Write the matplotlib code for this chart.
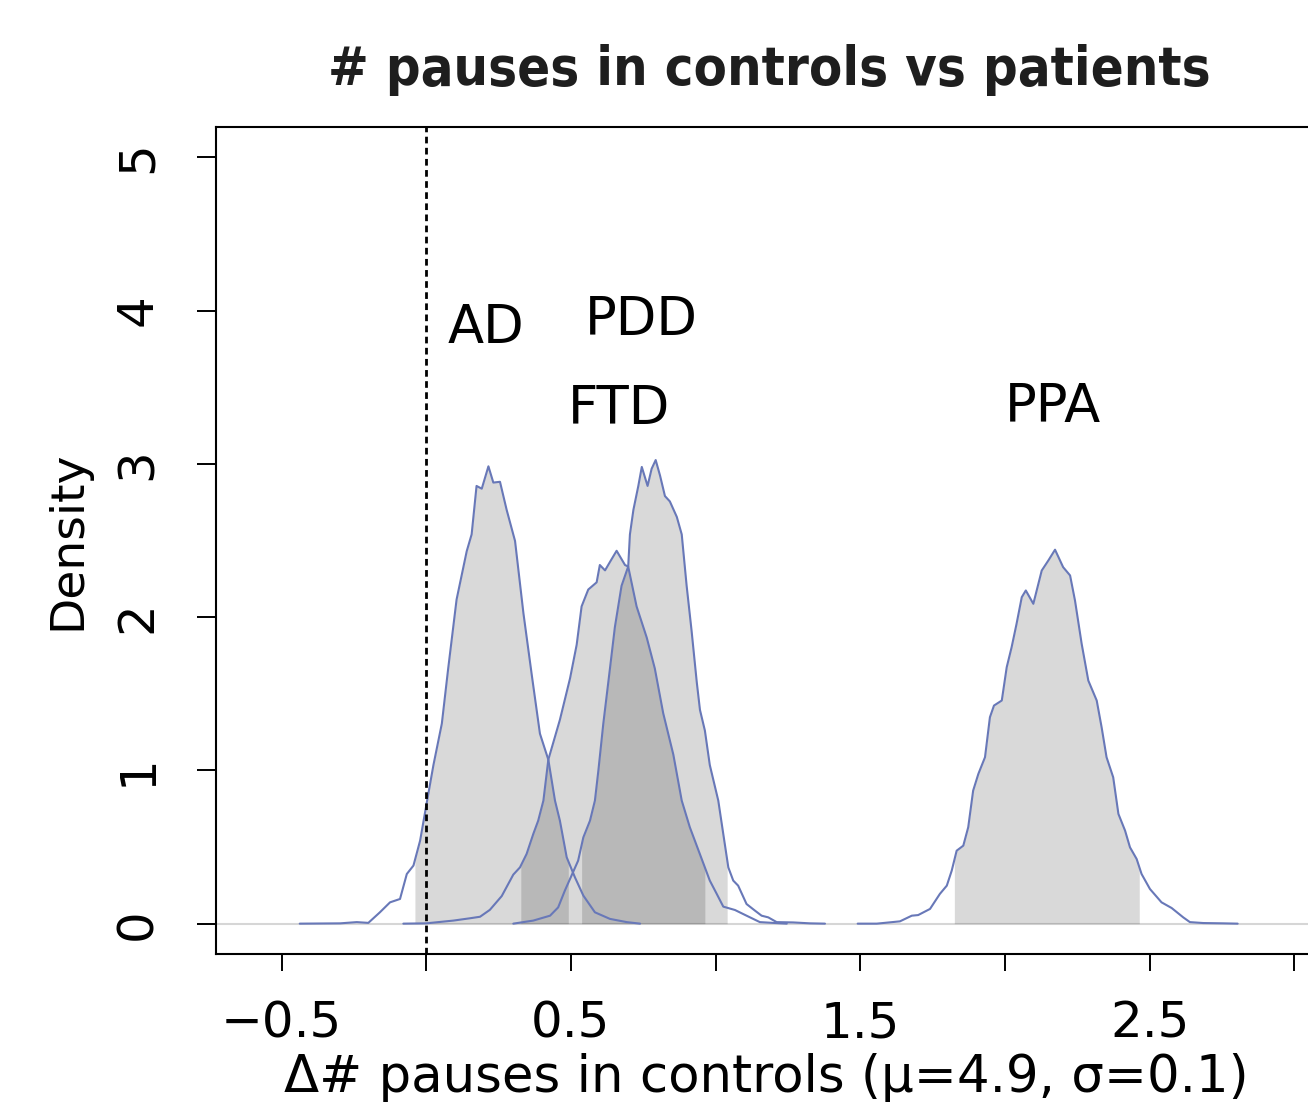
import numpy as np
import matplotlib
matplotlib.use('Agg')
import matplotlib.pyplot as plt

plt.rcParams['font.family'] = ['DejaVu Sans']

# ---- data ----
groups = ['AD', 'FTD', 'PDD', 'PPA']

ad_x = [-0.437, -0.297, -0.240, -0.200, -0.160, -0.125, -0.0905, -0.067, -0.044, -0.021,
        0.002, 0.025, 0.054, 0.076, 0.105, 0.140, 0.157, 0.174, 0.192, 0.215, 0.232,
        0.255, 0.278, 0.307, 0.336, 0.365, 0.393, 0.422, 0.445, 0.462, 0.4855, 0.514,
        0.543, 0.583, 0.635, 0.693, 0.739]
ad_y = [0.0, 0.002, 0.01, 0.005, 0.074, 0.139, 0.161, 0.324, 0.379, 0.542,
        0.79, 1.035, 1.305, 1.665, 2.115, 2.43, 2.54, 2.856, 2.838, 2.984, 2.878,
        2.883, 2.70, 2.497, 2.025, 1.62, 1.24, 1.07, 0.803, 0.672, 0.433, 0.302,
        0.183, 0.074, 0.031, 0.01, 0.0]

ftd_x = [-0.079, 0.0, 0.094, 0.151, 0.186, 0.220, 0.261, 0.301, 0.324, 0.347, 0.370,
         0.387, 0.405, 0.422, 0.462, 0.497, 0.520, 0.537, 0.560, 0.589, 0.600, 0.618,
         0.635, 0.658, 0.687, 0.698, 0.727, 0.762, 0.790, 0.819, 0.854, 0.883, 0.911,
         0.9455, 0.980, 1.004, 1.0266, 1.067, 1.107, 1.153, 1.198, 1.246]
ftd_y = [0.0, 0.002, 0.02, 0.035, 0.045, 0.09, 0.18, 0.32, 0.367, 0.455, 0.585,
         0.672, 0.803, 1.07, 1.33, 1.60, 1.82, 2.07, 2.18, 2.227, 2.34, 2.305,
         2.36, 2.433, 2.34, 2.33, 2.07, 1.867, 1.665, 1.373, 1.103, 0.803, 0.629,
         0.455, 0.281, 0.194, 0.111, 0.089, 0.052, 0.01, 0.005, 0.0]

pdd_x = [0.301, 0.370, 0.428, 0.456, 0.479, 0.502, 0.525, 0.543, 0.566, 0.583, 0.595,
         0.612, 0.635, 0.652, 0.675, 0.698, 0.704, 0.716, 0.733, 0.745, 0.765, 0.779,
         0.793, 0.808, 0.825, 0.842, 0.866, 0.883, 0.900, 0.917, 0.935, 0.946, 0.963,
         0.980, 1.0093, 1.0266, 1.044, 1.061, 1.078, 1.107, 1.136, 1.159, 1.182, 1.211,
         1.268, 1.326, 1.378]
pdd_y = [0.0, 0.02, 0.052, 0.106, 0.215, 0.313, 0.411, 0.563, 0.672, 0.803, 1.0,
         1.305, 1.665, 1.935, 2.204, 2.33, 2.54, 2.70, 2.856, 2.98, 2.856, 2.968,
         3.025, 2.924, 2.79, 2.755, 2.654, 2.54, 2.204, 1.912, 1.575, 1.395, 1.26,
         1.035, 0.803, 0.585, 0.367, 0.281, 0.248, 0.128, 0.085, 0.052, 0.041, 0.01,
         0.008, 0.002, 0.0]

ppa_x = [1.491, 1.557, 1.637, 1.678, 1.700, 1.741, 1.775, 1.799, 1.816, 1.833, 1.856,
         1.873, 1.890, 1.908, 1.931, 1.948, 1.962, 1.989, 2.006, 2.023, 2.040, 2.058,
         2.072, 2.098, 2.127, 2.150, 2.173, 2.201, 2.225, 2.242, 2.265, 2.288, 2.317,
         2.334, 2.351, 2.374, 2.392, 2.415, 2.432, 2.455, 2.472, 2.501, 2.541, 2.576,
         2.616, 2.639, 2.685, 2.754, 2.804]
ppa_y = [0.0, 0.0, 0.015, 0.052, 0.056, 0.096, 0.194, 0.248, 0.346, 0.476, 0.509,
         0.629, 0.868, 0.977, 1.086, 1.347, 1.423, 1.456, 1.673, 1.804, 1.956, 2.13,
         2.174, 2.087, 2.304, 2.37, 2.44, 2.326, 2.272, 2.108, 1.826, 1.586, 1.456,
         1.281, 1.086, 0.955, 0.716, 0.607, 0.498, 0.422, 0.324, 0.226, 0.139, 0.102,
         0.041, 0.01, 0.004, 0.002, 0.0]

# shaded (credible) intervals
hdi_lo = [-0.039, 0.327, 0.537, 1.825]
hdi_hi = [0.491, 0.963, 1.040, 2.464]

# group label anchors
label_x = [0.207, 0.666, 0.745, 2.166]
label_y = [3.79, 3.26, 3.84, 3.27]

xticks = [-0.5, 0.0, 0.5, 1.0, 1.5, 2.0, 2.5, 3.0]
xticklabels = ['\u22120.5', '', '0.5', '', '1.5', '', '2.5', '']
yticks = [0, 1, 2, 3, 4, 5]
yticklabels = ['0', '1', '2', '3', '4', '5']

title = '# pauses in controls vs patients'
xlabel = '\u0394# pauses in controls (\u03bc=4.9, \u03c3=0.1)'
ylabel = 'Density'

curves_x = [ad_x, ftd_x, pdd_x, ppa_x]
curves_y = [ad_y, ftd_y, pdd_y, ppa_y]

# ---- figure ----
W, H = 1308, 1102
fig = plt.figure(figsize=(W / 100, H / 100), dpi=100)
ax = fig.add_axes([215.7 / W, (H - 954.3) / H, 1107.6 / W, 827.6 / H])
ax.set_xlim(-0.7274, 3.1)
ax.set_ylim(-0.2, 5.2)

ax.axhline(0, color='#d6d6d6', lw=1.5, zorder=1)

for xs, ys, lo, hi in zip(curves_x, curves_y, hdi_lo, hdi_hi):
    xs = np.asarray(xs); ys = np.asarray(ys)
    m = (xs > lo) & (xs < hi)
    fx = np.concatenate([[lo], xs[m], [hi]])
    fy = np.concatenate([[np.interp(lo, xs, ys)], ys[m], [np.interp(hi, xs, ys)]])
    ax.fill_between(fx, 0, fy, color='black', alpha=0.15, linewidth=0, zorder=2)

for xs, ys in zip(curves_x, curves_y):
    ax.plot(xs, ys, color='#6878b8', lw=1.5, zorder=3,
            solid_joinstyle='round', solid_capstyle='round')

ax.axvline(0, color='black', lw=2.0, dashes=(2.4, 1.6), zorder=4)

for name, lx, ly in zip(groups, label_x, label_y):
    ax.text(lx, ly, name, ha='center', va='baseline', fontsize=38, color='black', zorder=5)

ax.set_xticks(xticks)
ax.set_xticklabels(xticklabels)
ax.set_yticks(yticks)
ax.set_yticklabels(yticklabels)
ax.tick_params(axis='x', direction='out', length=12.5, width=1.4, pad=20, labelsize=36)
ax.tick_params(axis='y', direction='out', length=14, width=1.4, pad=25, labelsize=36,
               labelrotation=90)
for lab in ax.get_yticklabels():
    lab.set_verticalalignment('center')

for sp in ax.spines.values():
    sp.set_linewidth(1.5)
    sp.set_color('black')

ax.set_xlabel(xlabel, fontsize=37, va='baseline')
ax.xaxis.set_label_coords(0.4968, -0.166)
ax.set_ylabel(ylabel, fontsize=34)
ax.yaxis.set_label_coords(-0.1135, 0.5)

fig.text(769 / W, (H - 85) / H, title, ha='center', va='baseline', fontsize=39,
         fontweight='bold', fontstretch='condensed', color='#1e1e1e')

fig.savefig('out.png', dpi=100)
